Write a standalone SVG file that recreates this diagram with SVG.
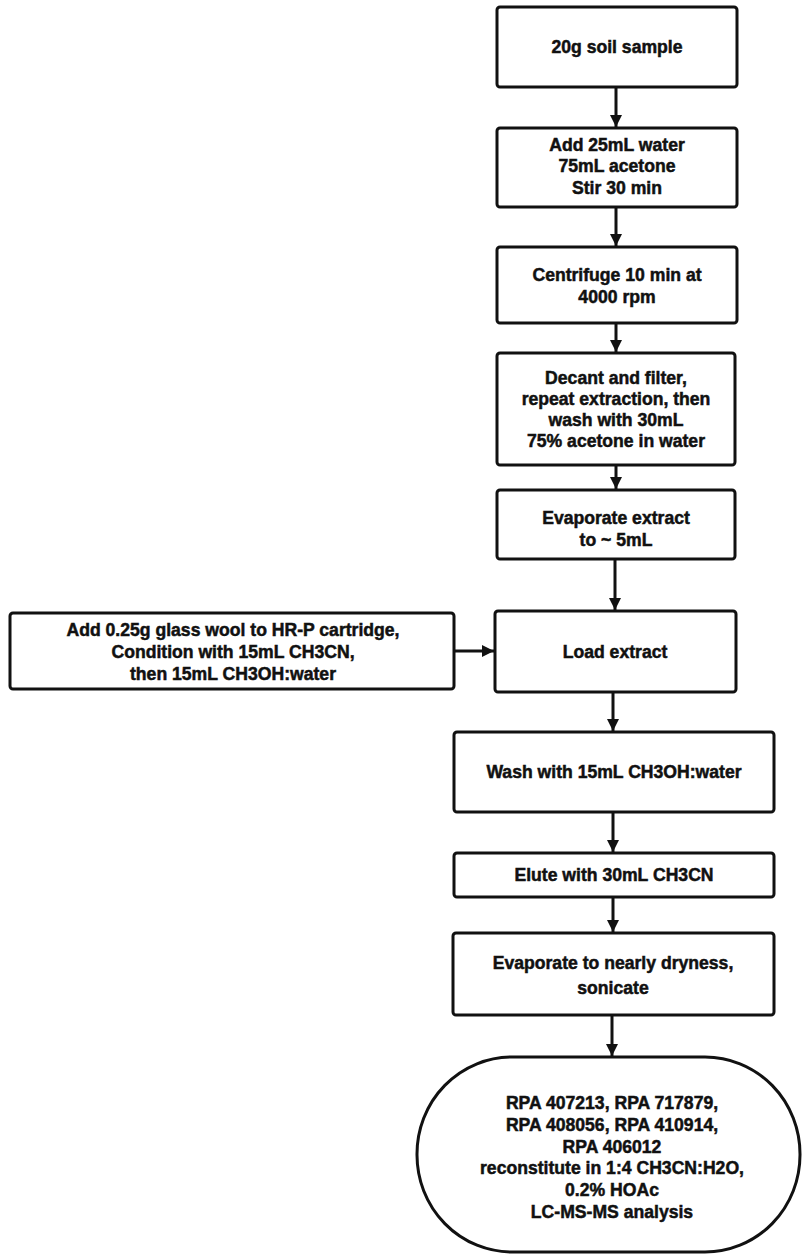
<svg xmlns="http://www.w3.org/2000/svg" width="806" height="1256" viewBox="0 0 806 1256">
<style>
.box{fill:#fff;stroke:#111;stroke-width:3}
.t{font-family:"Liberation Sans",Arial,sans-serif;font-weight:bold;font-size:17.6px;fill:#111;text-anchor:middle;stroke:#111;stroke-width:0.5}
.c{stroke:#111;stroke-width:3;fill:none}
</style>
<defs>
<marker id="ah" viewBox="0 0 10 10" refX="10" refY="5" markerWidth="4" markerHeight="4" orient="auto" markerUnits="strokeWidth">
<path d="M0,0 L10,5 L0,10 z" fill="#111"/>
</marker>
</defs>
<rect width="806" height="1256" fill="#fff"/>
<g id="connectors">
<line class="c" x1="616" y1="87" x2="616" y2="127" marker-end="url(#ah)"/>
<line class="c" x1="616" y1="207" x2="616" y2="246" marker-end="url(#ah)"/>
<line class="c" x1="616" y1="323" x2="616" y2="352" marker-end="url(#ah)"/>
<line class="c" x1="616" y1="465" x2="616" y2="489" marker-end="url(#ah)"/>
<line class="c" x1="615" y1="559" x2="615" y2="610" marker-end="url(#ah)"/>
<line class="c" x1="455" y1="651" x2="494" y2="651" marker-end="url(#ah)"/>
<line class="c" x1="613" y1="692" x2="613" y2="731" marker-end="url(#ah)"/>
<line class="c" x1="613" y1="812" x2="613" y2="852" marker-end="url(#ah)"/>
<line class="c" x1="613" y1="897" x2="613" y2="932" marker-end="url(#ah)"/>
<line class="c" x1="612" y1="1015" x2="612" y2="1056" marker-end="url(#ah)"/>
</g>
<g id="n1">
<rect class="box" x="497" y="7" width="240" height="80" rx="3"/>
<text class="t" x="617" y="53">20g soil sample</text>
</g>
<g id="n2">
<rect class="box" x="497" y="128" width="240" height="79" rx="3"/>
<text class="t" x="617" y="151">Add 25mL water</text>
<text class="t" x="617" y="172">75mL acetone</text>
<text class="t" x="617" y="194">Stir 30 min</text>
</g>
<g id="n3">
<rect class="box" x="497" y="247" width="240" height="76" rx="3"/>
<text class="t" x="617" y="281">Centrifuge 10 min at</text>
<text class="t" x="617" y="303">4000 rpm</text>
</g>
<g id="n4">
<rect class="box" x="497" y="353" width="238" height="112" rx="3"/>
<text class="t" x="616" y="384">Decant and filter,</text>
<text class="t" x="616" y="405">repeat extraction, then</text>
<text class="t" x="616" y="426">wash with 30mL</text>
<text class="t" x="616" y="447">75% acetone in water</text>
</g>
<g id="n5">
<rect class="box" x="497" y="490" width="238" height="69" rx="3"/>
<text class="t" x="616" y="524">Evaporate extract</text>
<text class="t" x="616" y="546">to ~ 5mL</text>
</g>
<g id="n6">
<rect class="box" x="495" y="611" width="241" height="81" rx="3"/>
<text class="t" x="615" y="658">Load extract</text>
</g>
<g id="n_side">
<rect class="box" x="10" y="613" width="444" height="76" rx="3"/>
<text class="t" x="233" y="636">Add 0.25g glass wool to HR-P cartridge,</text>
<text class="t" x="233" y="658">Condition with 15mL CH3CN,</text>
<text class="t" x="233" y="680">then 15mL CH3OH:water</text>
</g>
<g id="n7">
<rect class="box" x="454" y="732" width="320" height="80" rx="3"/>
<text class="t" x="614" y="778">Wash with 15mL CH3OH:water</text>
</g>
<g id="n8">
<rect class="box" x="454" y="853" width="320" height="44" rx="3"/>
<text class="t" x="614" y="881">Elute with 30mL CH3CN</text>
</g>
<g id="n9">
<rect class="box" x="453" y="933" width="321" height="82" rx="3"/>
<text class="t" x="613" y="969">Evaporate to nearly dryness,</text>
<text class="t" x="613" y="994">sonicate</text>
</g>
<g id="n10">
<rect class="box" x="417" y="1057" width="383" height="195" rx="95" ry="97"/>
<text class="t" x="612" y="1109">RPA 407213, RPA 717879,</text>
<text class="t" x="612" y="1131">RPA 408056, RPA 410914,</text>
<text class="t" x="612" y="1153">RPA 406012</text>
<text class="t" x="612" y="1174">reconstitute in 1:4 CH3CN:H2O,</text>
<text class="t" x="612" y="1196">0.2% HOAc</text>
<text class="t" x="612" y="1218">LC-MS-MS analysis</text>
</g>
</svg>
